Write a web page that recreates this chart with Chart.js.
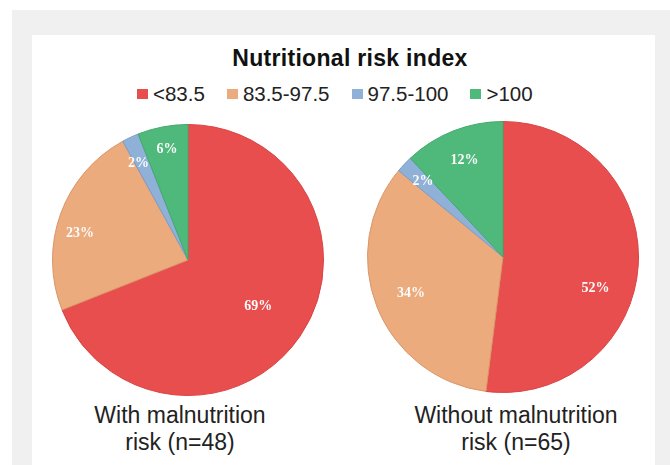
<!DOCTYPE html>
<html>
<head>
<meta charset="utf-8">
<script src="https://cdn.jsdelivr.net/npm/chart.js@4.4.1/dist/chart.umd.min.js"></script>
<style>
  html, body { margin: 0; padding: 0; width: 670px; height: 465px; overflow: hidden; background: #ffffff; }
  #backdrop { position: absolute; left: 12px; top: 10px; right: 0; bottom: 0; background: #f0f0f0; }
  #panel { position: absolute; left: 32px; top: 35px; width: 623px; height: 430px; background: #ffffff; }
  #title { position: absolute; left: 0; top: 45px; width: 700px; text-align: center;
           font: bold 23px "Liberation Sans", Arial, sans-serif; color: #111; letter-spacing: 0.3px; }
  #legend { position: absolute; left: 137px; top: 82px; display: flex; align-items: center;
            font: 20.5px "Liberation Sans", Arial, sans-serif; color: #222; white-space: nowrap; }
  .item { display: flex; align-items: center; margin-right: 22px; }
  .swatch { width: 11px; height: 10px; margin-right: 5px; }
  .pie { position: absolute; }
  .caption { position: absolute; width: 300px; text-align: center; line-height: 25px;
             font: 23px "Liberation Sans", Arial, sans-serif; color: #222; }
</style>
</head>
<body>
<div id="backdrop"></div>
<div id="panel"></div>
<div id="title">Nutritional risk index</div>
<div id="legend"></div>
<canvas id="pieWith" class="pie" width="272" height="272" style="left:52px;top:124px;width:272px;height:272px"></canvas>
<canvas id="pieWithout" class="pie" width="272" height="272" style="left:367px;top:121px;width:272px;height:272px"></canvas>
<div id="capWith" class="caption" style="left:30px;top:402px"></div>
<div id="capWithout" class="caption" style="left:366px;top:402px"></div>
<script>
// NRI categories and the share of patients (%) in each group
const categories = ['<83.5', '83.5-97.5', '97.5-100', '>100'];
const withRisk = [69, 23, 2, 6];
const withoutRisk = [52, 34, 2, 12];
const groupTitles = [['With malnutrition', 'risk (n=48)'], ['Without malnutrition', 'risk (n=65)']];

const fillColors = ['#e84e4e', '#ebab7d', '#8fb1d8', '#4eb97b'];
const edgeColors = ['#d94444', '#d9966a', '#7a9cc6', '#44a86d'];

// legend
const legend = document.getElementById('legend');
categories.forEach((c, i) => {
  const it = document.createElement('div');
  it.className = 'item';
  const sw = document.createElement('span');
  sw.className = 'swatch';
  sw.style.background = fillColors[i];
  const tx = document.createElement('span');
  tx.textContent = c;
  it.appendChild(sw); it.appendChild(tx);
  legend.appendChild(it);
});

document.getElementById('capWith').innerHTML = groupTitles[0].join('<br>');
document.getElementById('capWithout').innerHTML = groupTitles[1].join('<br>');

// white percentage labels placed along each slice's mid angle
const sliceLabels = {
  id: 'sliceLabels',
  afterDatasetsDraw(chart, args, opts) {
    const ctx = chart.ctx;
    const meta = chart.getDatasetMeta(0);
    const values = chart.data.datasets[0].data;
    ctx.save();
    ctx.font = 'bold 14px "Liberation Serif", "Times New Roman", serif';
    ctx.fillStyle = '#fbfbfb';
    ctx.textAlign = 'center';
    ctx.textBaseline = 'middle';
    meta.data.forEach((arc, i) => {
      const p = arc.getProps(['x', 'y', 'startAngle', 'endAngle', 'outerRadius'], true);
      const a = (p.startAngle + p.endAngle) / 2 + (opts.shift[i] || 0) * Math.PI / 180;
      const r = p.outerRadius * opts.radial[i];
      ctx.fillText(values[i] + '%', p.x + Math.cos(a) * r, p.y + Math.sin(a) * r);
    });
    ctx.restore();
  }
};

function makePie(id, values, radial, shift) {
  return new Chart(document.getElementById(id), {
    type: 'pie',
    data: {
      labels: categories,
      datasets: [{
        data: values,
        backgroundColor: fillColors,
        borderColor: edgeColors,
        borderWidth: 1,
        hoverOffset: 0
      }]
    },
    options: {
      responsive: false,
      animation: false,
      layout: { padding: 0 },
      plugins: {
        legend: { display: false },
        tooltip: { enabled: false },
        sliceLabels: { radial: radial, shift: shift }
      }
    },
    plugins: [sliceLabels]
  });
}

makePie('pieWith', withRisk, [0.62, 0.82, 0.8, 0.83], [-1, -6, -2, 0]);
makePie('pieWithout', withoutRisk, [0.72, 0.73, 0.81, 0.77], [15, 0, 0, 0]);
</script>
</body>
</html>
